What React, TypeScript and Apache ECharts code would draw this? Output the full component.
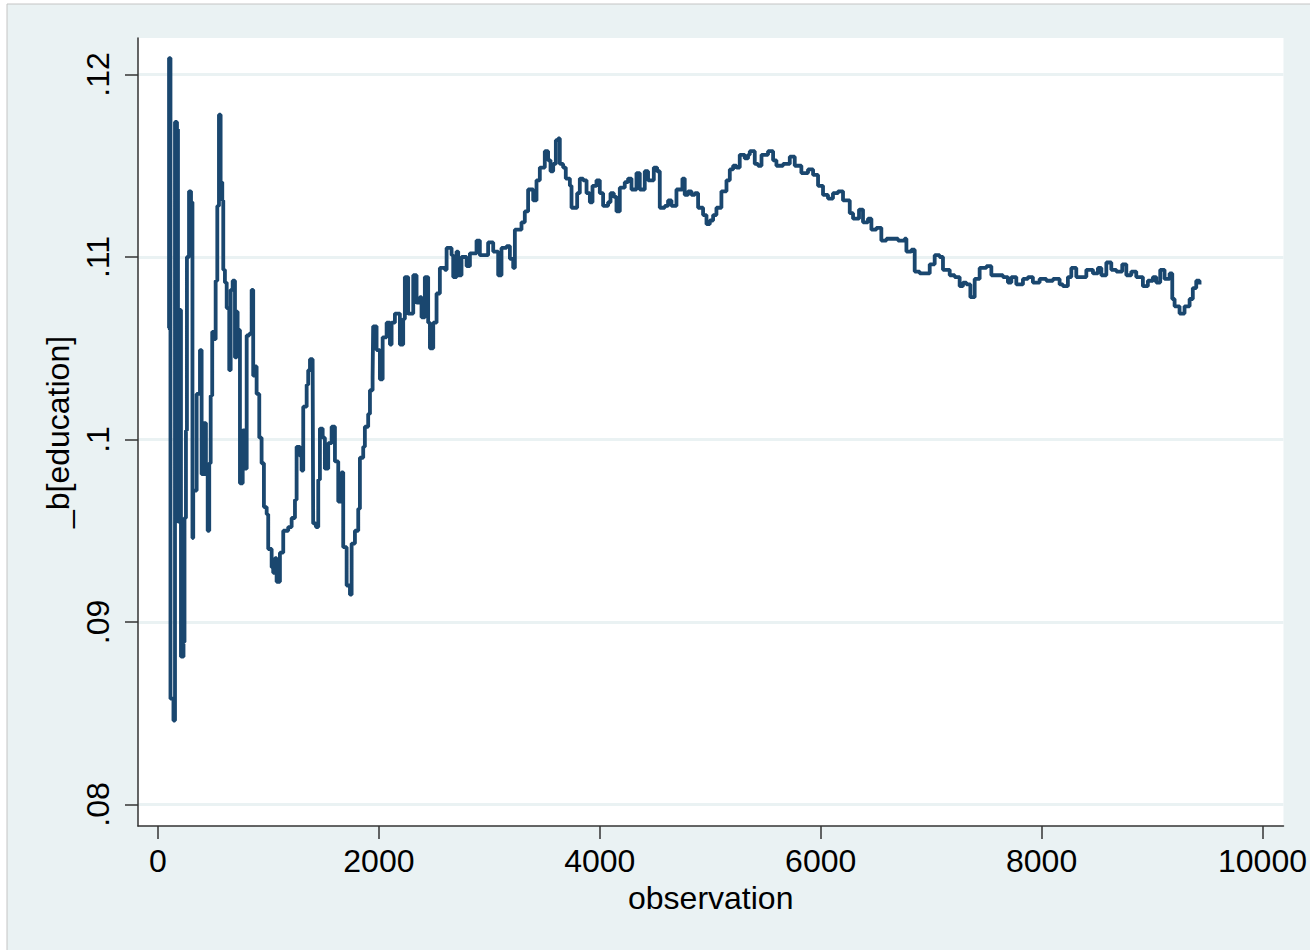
import React, { useEffect, useRef } from "react";
import * as echarts from "echarts";

const observations: number[] = [
  90, 100, 113, 140, 154, 172, 181, 195, 208, 231, 240, 253, 262, 281, 299, 312, 319, 350, 380, 395,
  416, 434, 450, 464, 477, 491, 507, 522, 537, 552, 567, 582, 591, 606, 622, 645, 658, 676, 697, 712,
  721, 742, 767, 787, 803, 826, 848, 862, 878, 893, 917, 938, 959, 984, 998, 1029, 1043, 1059, 1074, 1104,
  1134, 1179, 1210, 1240, 1255, 1285, 1300, 1315, 1346, 1360, 1376, 1400, 1405, 1430, 1451, 1466, 1491, 1511, 1541, 1572,
  1602, 1632, 1662, 1677, 1708, 1738, 1753, 1783, 1813, 1828, 1858, 1873, 1903, 1919, 1943, 1948, 1979, 2009, 2034, 2070,
  2100, 2115, 2145, 2190, 2220, 2235, 2265, 2311, 2341, 2371, 2386, 2416, 2446, 2462, 2492, 2522, 2552, 2597, 2613, 2658,
  2673, 2703, 2718, 2748, 2794, 2824, 2884, 2914, 2989, 3035, 3080, 3110, 3156, 3186, 3216, 3231, 3291, 3321, 3351, 3397,
  3427, 3457, 3502, 3532, 3554, 3578, 3602, 3623, 3638, 3668, 3692, 3729, 3744, 3774, 3795, 3819, 3849, 3880, 3910, 3934,
  3970, 4000, 4030, 4075, 4097, 4127, 4151, 4181, 4226, 4256, 4287, 4332, 4362, 4407, 4437, 4489, 4519, 4543, 4588, 4618,
  4649, 4694, 4748, 4769, 4799, 4830, 4860, 4890, 4935, 4966, 4996, 5026, 5056, 5101, 5147, 5177, 5207, 5237, 5267, 5312,
  5342, 5358, 5403, 5433, 5464, 5523, 5569, 5599, 5659, 5720, 5765, 5810, 5825, 5885, 5931, 5976, 6021, 6066, 6111, 6157,
  6202, 6263, 6293, 6347, 6383, 6428, 6459, 6504, 6549, 6595, 6655, 6700, 6760, 6776, 6821, 6851, 6896, 6957, 6987, 7032,
  7077, 7107, 7168, 7213, 7258, 7288, 7319, 7355, 7394, 7439, 7500, 7545, 7605, 7650, 7695, 7726, 7771, 7831, 7876, 7921,
  7982, 8043, 8103, 8163, 8193, 8238, 8269, 8314, 8405, 8465, 8510, 8541, 8586, 8631, 8676, 8730, 8767, 8812, 8857, 8917,
  8962, 9008, 9038, 9074, 9113, 9159, 9183, 9204, 9249, 9294, 9340, 9369, 9400, 9430,
];

const bEducation: number[] = [
  0.1061, 0.1209, 0.0858, 0.0846, 0.1174, 0.1170, 0.0955, 0.1071, 0.0881, 0.0889, 0.0957, 0.1005, 0.1100, 0.1136, 0.1130, 0.0946, 0.0972, 0.1025, 0.1049, 0.0981,
  0.1009, 0.0981, 0.0950, 0.0987, 0.1024, 0.1059, 0.1055, 0.1087, 0.1128, 0.1178, 0.1141, 0.1131, 0.1093, 0.1086, 0.1072, 0.1038, 0.1082, 0.1087, 0.1045, 0.1070,
  0.1060, 0.0976, 0.1005, 0.0984, 0.1057, 0.1058, 0.1082, 0.1035, 0.1040, 0.1025, 0.1001, 0.0987, 0.0963, 0.0959, 0.0940, 0.0930, 0.0927, 0.0935, 0.0922, 0.0938,
  0.0950, 0.0952, 0.0957, 0.0967, 0.0996, 0.0991, 0.0983, 0.1018, 0.1030, 0.1038, 0.1044, 0.1044, 0.0954, 0.0952, 0.0978, 0.1006, 0.1001, 0.0984, 0.0998, 0.1007,
  0.0988, 0.0966, 0.0982, 0.0941, 0.0920, 0.0915, 0.0943, 0.0950, 0.0962, 0.0990, 0.0996, 0.1007, 0.1014, 0.1027, 0.1034, 0.1062, 0.1049, 0.1033, 0.1056, 0.1064,
  0.1052, 0.1064, 0.1069, 0.1052, 0.1066, 0.1089, 0.1069, 0.1090, 0.1075, 0.1078, 0.1067, 0.1089, 0.1064, 0.1050, 0.1064, 0.1080, 0.1094, 0.1093, 0.1105, 0.1101,
  0.1089, 0.1103, 0.1090, 0.1100, 0.1095, 0.1102, 0.1109, 0.1101, 0.1108, 0.1103, 0.1090, 0.1105, 0.1106, 0.1099, 0.1094, 0.1115, 0.1119, 0.1125, 0.1137, 0.1131,
  0.1142, 0.1149, 0.1158, 0.1153, 0.1147, 0.1151, 0.1164, 0.1165, 0.1151, 0.1149, 0.1143, 0.1139, 0.1127, 0.1127, 0.1135, 0.1143, 0.1142, 0.1135, 0.1130, 0.1139,
  0.1142, 0.1135, 0.1128, 0.1130, 0.1135, 0.1133, 0.1125, 0.1138, 0.1141, 0.1143, 0.1137, 0.1146, 0.1137, 0.1147, 0.1142, 0.1149, 0.1147, 0.1127, 0.1128, 0.1131,
  0.1128, 0.1137, 0.1143, 0.1134, 0.1136, 0.1134, 0.1135, 0.1127, 0.1123, 0.1118, 0.1120, 0.1123, 0.1127, 0.1136, 0.1142, 0.1148, 0.1150, 0.1149, 0.1156, 0.1154,
  0.1156, 0.1158, 0.1151, 0.1150, 0.1156, 0.1158, 0.1153, 0.1150, 0.1151, 0.1155, 0.1150, 0.1150, 0.1146, 0.1148, 0.1145, 0.1139, 0.1134, 0.1132, 0.1135, 0.1136,
  0.1131, 0.1124, 0.1121, 0.1126, 0.1119, 0.1121, 0.1115, 0.1116, 0.1109, 0.1110, 0.1110, 0.1109, 0.1110, 0.1103, 0.1104, 0.1092, 0.1091, 0.1091, 0.1096, 0.1101,
  0.1100, 0.1093, 0.1090, 0.1089, 0.1084, 0.1086, 0.1085, 0.1078, 0.1088, 0.1094, 0.1095, 0.1090, 0.1090, 0.1089, 0.1086, 0.1089, 0.1085, 0.1088, 0.1089, 0.1086,
  0.1088, 0.1087, 0.1088, 0.1085, 0.1084, 0.1089, 0.1094, 0.1089, 0.1093, 0.1091, 0.1094, 0.1090, 0.1097, 0.1093, 0.1092, 0.1096, 0.1090, 0.1092, 0.1089, 0.1084,
  0.1087, 0.1089, 0.1086, 0.1093, 0.1088, 0.1091, 0.1077, 0.1073, 0.1069, 0.1073, 0.1077, 0.1083, 0.1087, 0.1085,
];

const xTicks: number[] = [0, 2000, 4000, 6000, 8000, 10000];
const yTicks: number[] = [0.08, 0.09, 0.1, 0.11, 0.12];

const FONT = "'Liberation Sans', Arial, sans-serif";

export default function App() {
  const ref = useRef<HTMLDivElement>(null);

  useEffect(() => {
    document.body.style.margin = "0";
    if (!ref.current) return;
    const chart = echarts.init(ref.current, undefined, { renderer: "svg" });
    const data = observations.map((o, i) => [o, bEducation[i]]);

    chart.setOption({
      animation: false,
      backgroundColor: "#ffffff",
      graphic: [
        {
          type: "rect",
          z: -10,
          silent: true,
          shape: { x: 7, y: 4, width: 1310, height: 950 },
          style: { fill: "#EAF2F3", stroke: "#C4C4C4", lineWidth: 1 },
        },
      ],
      grid: {
        left: 138,
        top: 38,
        width: 1146,
        height: 788,
        show: true,
        backgroundColor: "#ffffff",
        borderWidth: 0,
        containLabel: false,
      },
      xAxis: {
        type: "value",
        min: -181,
        max: 10190,
        name: "observation",
        nameLocation: "middle",
        nameGap: 51,
        nameTextStyle: { fontFamily: FONT, fontSize: 32, color: "#000" },
        axisLine: { show: true, onZero: false, lineStyle: { color: "#333", width: 1.5 } },
        axisTick: { show: true, length: 13, customValues: xTicks, lineStyle: { color: "#333", width: 1.5 } },
        axisLabel: {
          customValues: xTicks,
          fontFamily: FONT,
          fontSize: 32,
          color: "#000",
          margin: 19,
          formatter: (v: number) => String(v),
        },
        splitLine: { show: false },
      },
      yAxis: {
        type: "value",
        min: 0.078822,
        max: 0.122,
        name: "_b[education]",
        nameLocation: "middle",
        nameGap: 58,
        nameRotate: 90,
        nameTextStyle: { fontFamily: FONT, fontSize: 32, color: "#000" },
        axisLine: { show: true, onZero: false, lineStyle: { color: "#333", width: 1.5 } },
        axisTick: { show: true, length: 13, customValues: yTicks, lineStyle: { color: "#333", width: 1.5 } },
        axisLabel: {
          customValues: yTicks,
          rotate: 90,
          fontFamily: FONT,
          fontSize: 32,
          color: "#000",
          margin: 24,
          formatter: (v: number) => String(Number(v.toFixed(4))).replace(/^0/, ""),
        },
        splitLine: { show: true, lineStyle: { color: "#EAF2F3", width: 3 } },
      },
      series: [
        {
          type: "line",
          data,
          step: "end",
          showSymbol: false,
          symbol: "none",
          lineStyle: { color: "#1A476F", width: 3.8 },
          itemStyle: { color: "#1A476F" },
          clip: true,
        },
      ],
    });

    return () => chart.dispose();
  }, []);

  return <div ref={ref} style={{ width: 1310, height: 950 }} />;
}
